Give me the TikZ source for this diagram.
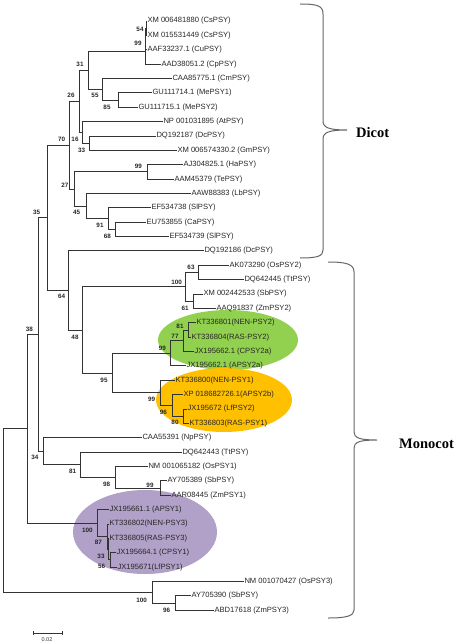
\documentclass[tikz,border=0pt]{standalone}
\usepackage{fontspec}
\setmainfont{Liberation Sans}
\newfontfamily\seriffont{Liberation Serif}
\definecolor{grn}{HTML}{92D050}
\definecolor{org}{HTML}{FFC000}
\definecolor{pur}{HTML}{B1A0C7}
\tikzset{
  br/.style={draw=black!80, line width=0.9pt},
  lf/.style={anchor=west, inner sep=0.8pt, font=\fontsize{7.6}{8}\selectfont, text=black!85},
  bs/.style={inner sep=0pt, font=\bfseries\fontsize{6.3}{7}\selectfont, text=black!85},
  bracecurve/.style={draw=black!60, line width=1pt},
  grp/.style={font=\seriffont\bfseries\fontsize{14.5}{16}\selectfont, anchor=west, inner sep=0pt},
}
\begin{document}
\begin{tikzpicture}[x=1pt, y=-1pt]
\useasboundingbox (0,0) rectangle (459,644);
% highlight ellipses
\fill[grn] (228,340) ellipse [x radius=70, y radius=30];
\fill[org] (224,400) ellipse [x radius=68, y radius=32];
\fill[pur] (145,532) ellipse [x radius=72, y radius=42];
% leaves
\node[lf] (L1) at (146.5,21) {XM 006481880 (CsPSY)};
\node[lf] (L2) at (146.5,35.4) {XM 015531449 (CsPSY)};
\node[lf] (L3) at (146.5,49.7) {AAF33237.1 (CuPSY)};
\node[lf] (L4) at (160.5,64.1) {AAD38051.2 (CpPSY)};
\node[lf] (L5) at (171.5,78.5) {CAA85775.1 (CmPSY)};
\node[lf] (L6) at (151.5,92.9) {GU111714.1 (MePSY1)};
\node[lf] (L7) at (137.5,107.2) {GU111715.1 (MePSY2)};
\node[lf] (L8) at (162.5,121.6) {NP 001031895 (AtPSY)};
\node[lf] (L9) at (155.5,136) {DQ192187 (DcPSY)};
\node[lf] (L10) at (176.5,150.3) {XM 006574330.2 (GmPSY)};
\node[lf] (L11) at (182.5,164.7) {AJ304825.1 (HaPSY)};
\node[lf] (L12) at (173.5,179.1) {AAM45379 (TePSY)};
\node[lf] (L13) at (190.5,193.4) {AAW88383 (LbPSY)};
\node[lf] (L14) at (150.5,207.8) {EF534738 (SlPSY)};
\node[lf] (L15) at (145.5,222.2) {EU753855 (CaPSY)};
\node[lf] (L16) at (168.5,236.6) {EF534739 (SlPSY)};
\node[lf] (L17) at (203.5,250.9) {DQ192186 (DcPSY)};
\node[lf] (L18) at (228.5,265.3) {AK073290 (OsPSY2)};
\node[lf] (L19) at (243.5,279.7) {DQ642445 (TtPSY)};
\node[lf] (L20) at (202.5,294) {XM 002442533 (SbPSY)};
\node[lf] (L21) at (215.5,308.4) {AAQ91837 (ZmPSY2)};
\node[lf] (L22) at (195.5,322.8) {KT336801(NEN-PSY2)};
\node[lf] (L23) at (190.5,337.1) {KT336804(RAS-PSY2)};
\node[lf] (L24) at (193.5,351.5) {JX195662.1 (CPSY2a)};
\node[lf] (L25) at (185.5,365.9) {JX195662.1 (APSY2a)};
\node[lf] (L26) at (174.5,380.3) {KT336800(NEN-PSY1)};
\node[lf] (L27) at (182.5,394.6) {XP 018682726.1(APSY2b)};
\node[lf] (L28) at (186.5,409) {JX195672 (LfPSY2)};
\node[lf] (L29) at (188.5,423.4) {KT336803(RAS-PSY1)};
\node[lf] (L30) at (141.5,437.7) {CAA55391 (NpPSY)};
\node[lf] (L31) at (181.5,452.1) {DQ642443 (TtPSY)};
\node[lf] (L32) at (147.5,466.5) {NM 001065182 (OsPSY1)};
\node[lf] (L33) at (166.5,480.8) {AY705389 (SbPSY)};
\node[lf] (L34) at (170.5,495.2) {AAR08445 (ZmPSY1)};
\node[lf] (L35) at (108.5,509.6) {JX195661.1 (APSY1)};
\node[lf] (L36) at (108.5,524) {KT336802(NEN-PSY3)};
\node[lf] (L37) at (108.5,538.3) {KT336805(RAS-PSY3)};
\node[lf] (L38) at (115.5,552.7) {JX195664.1 (CPSY1)};
\node[lf] (L39) at (116.5,567.1) {JX195671(LfPSY1)};
\node[lf] (L40) at (243.5,581.4) {NM 001070427 (OsPSY3)};
\node[lf] (L41) at (190.5,595.8) {AY705390 (SbPSY)};
\node[lf] (L42) at (213.5,610.2) {ABD17618 (ZmPSY3)};
% internal nodes
\coordinate (n54) at (146,28.2);
\coordinate (n99i) at (145.5,39);
\coordinate (n99) at (145,51.5);
\coordinate (n85) at (118,100);
\coordinate (n55) at (102,89.3);
\coordinate (n31) at (88,70.4);
\coordinate (n33d) at (89,143.2);
\coordinate (n16) at (82,132.4);
\coordinate (n26) at (79,101.4);
\coordinate (n99h) at (147,171.9);
\coordinate (n68) at (115,229.4);
\coordinate (n91) at (108,218.6);
\coordinate (n45) at (86,206);
\coordinate (n27) at (74,189);
\coordinate (n70) at (69,145.2);
\coordinate (n63) at (198,272.5);
\coordinate (n61) at (193,301.2);
\coordinate (n100a) at (185,286.9);
\coordinate (n81) at (188,330);
\coordinate (n77) at (183,340.8);
\coordinate (n99g) at (170,353.3);
\coordinate (n80) at (183,416.2);
\coordinate (n96) at (172,405.4);
\coordinate (n99o) at (160,392.9);
\coordinate (n95) at (112,373.1);
\coordinate (n48) at (82,330);
\coordinate (n64) at (68,290.5);
\coordinate (n35) at (47,217.8);
\coordinate (n99c) at (160,488);
\coordinate (n98) at (115,477.3);
\coordinate (n81b) at (80,464.7);
\coordinate (n34) at (43,451.2);
\coordinate (n38) at (38,334.5);
\coordinate (n56) at (110,559.9);
\coordinate (n33p) at (108,549.1);
\coordinate (n87) at (107,536.6);
\coordinate (n100p) at (97,523.1);
\coordinate (nA) at (27,428.8);
\coordinate (n96o) at (175,603);
\coordinate (n100o) at (152,592.2);
\coordinate (root) at (3,510.5);
% branches
\draw[br] (n54) |- (L1.west); \draw[br] (n54) |- (L2.west);
\draw[br] (n99i) |- (n54); \draw[br] (n99i) |- (L3.west);
\draw[br] (n99) |- (n99i); \draw[br] (n99) |- (L4.west);
\draw[br] (n85) |- (L6.west); \draw[br] (n85) |- (L7.west);
\draw[br] (n55) |- (L5.west); \draw[br] (n55) |- (n85);
\draw[br] (n31) |- (n99); \draw[br] (n31) |- (n55);
\draw[br] (n33d) |- (L9.west); \draw[br] (n33d) |- (L10.west);
\draw[br] (n16) |- (L8.west); \draw[br] (n16) |- (n33d);
\draw[br] (n26) |- (n31); \draw[br] (n26) |- (n16);
\draw[br] (n99h) |- (L11.west); \draw[br] (n99h) |- (L12.west);
\draw[br] (n68) |- (L15.west); \draw[br] (n68) |- (L16.west);
\draw[br] (n91) |- (L14.west); \draw[br] (n91) |- (n68);
\draw[br] (n45) |- (L13.west); \draw[br] (n45) |- (n91);
\draw[br] (n27) |- (n99h); \draw[br] (n27) |- (n45);
\draw[br] (n70) |- (n26); \draw[br] (n70) |- (n27);
\draw[br] (n63) |- (L18.west); \draw[br] (n63) |- (L19.west);
\draw[br] (n61) |- (L20.west); \draw[br] (n61) |- (L21.west);
\draw[br] (n100a) |- (n63); \draw[br] (n100a) |- (n61);
\draw[br] (n81) |- (L22.west); \draw[br] (n81) |- (L23.west);
\draw[br] (n77) |- (n81); \draw[br] (n77) |- (L24.west);
\draw[br] (n99g) |- (n77); \draw[br] (n99g) |- (L25.west);
\draw[br] (n80) |- (L28.west); \draw[br] (n80) |- (L29.west);
\draw[br] (n96) |- (L27.west); \draw[br] (n96) |- (n80);
\draw[br] (n99o) |- (L26.west); \draw[br] (n99o) |- (n96);
\draw[br] (n95) |- (n99g); \draw[br] (n95) |- (n99o);
\draw[br] (n48) |- (n100a); \draw[br] (n48) |- (n95);
\draw[br] (n64) |- (L17.west); \draw[br] (n64) |- (n48);
\draw[br] (n35) |- (n70); \draw[br] (n35) |- (n64);
\draw[br] (n99c) |- (L33.west); \draw[br] (n99c) |- (L34.west);
\draw[br] (n98) |- (L32.west); \draw[br] (n98) |- (n99c);
\draw[br] (n81b) |- (L31.west); \draw[br] (n81b) |- (n98);
\draw[br] (n34) |- (L30.west); \draw[br] (n34) |- (n81b);
\draw[br] (n38) |- (n35); \draw[br] (n38) |- (n34);
\draw[br] (n56) |- (L38.west); \draw[br] (n56) |- (L39.west);
\draw[br] (n33p) |- (L37.west); \draw[br] (n33p) |- (n56);
\draw[br] (n87) |- (L36.west); \draw[br] (n87) |- (n33p);
\draw[br] (n100p) |- (L35.west); \draw[br] (n100p) |- (n87);
\draw[br] (nA) |- (n38); \draw[br] (nA) |- (n100p);
\draw[br] (n96o) |- (L41.west); \draw[br] (n96o) |- (L42.west);
\draw[br] (n100o) |- (L40.west); \draw[br] (n100o) |- (n96o);
\draw[br] (root) |- (nA); \draw[br] (root) |- (n100o);
% bootstrap values
\node[bs] (b54) at (140,29) {54};
\node[bs] (b99a) at (138,43) {99};
\node[bs] (b31) at (80,64) {31};
\node[bs] (b26) at (71,95) {26};
\node[bs] (b55) at (95,95) {55};
\node[bs] (b85) at (107,107) {85};
\node[bs] (b70) at (61.7,139.3) {70};
\node[bs] (b16) at (75,139.3) {16};
\node[bs] (b33a) at (81.7,150) {33};
\node[bs] (b99b) at (138.3,166.7) {99};
\node[bs] (b27) at (65,185) {27};
\node[bs] (b45) at (76.7,212.3) {45};
\node[bs] (b91) at (100,225) {91};
\node[bs] (b68) at (107.3,236) {68};
\node[bs] (b35) at (36.7,212.3) {35};
\node[bs] (b64) at (61.7,296.7) {64};
\node[bs] (b63) at (191,267.7) {63};
\node[bs] (b100a) at (176.7,282.3) {100};
\node[bs] (b61) at (185,308.3) {61};
\node[bs] (b81a) at (180,326) {81};
\node[bs] (b77) at (175,336) {77};
\node[bs] (b99g) at (162.3,348.3) {99};
\node[bs] (b99o) at (151.7,399.3) {99};
\node[bs] (b48) at (75,337.7) {48};
\node[bs] (b95) at (104,380) {95};
\node[bs] (b38) at (29.3,329.3) {38};
\node[bs] (b96a) at (163.3,412.3) {96};
\node[bs] (b80) at (175,422.7) {80};
\node[bs] (b34) at (35,457.3) {34};
\node[bs] (b81b) at (72.7,471) {81};
\node[bs] (b98) at (106.7,484.3) {98};
\node[bs] (b99c) at (150,485.7) {99};
\node[bs] (b100p) at (87.3,530.7) {100};
\node[bs] (b87) at (98.3,542.7) {87};
\node[bs] (b33p) at (101,556.7) {33};
\node[bs] (b56) at (101.7,566.7) {56};
\node[bs] (b100o) at (141.7,600) {100};
\node[bs] (b96o) at (166.7,610) {96};
% scale bar
\coordinate (s1) at (33,633);
\coordinate (s2) at (62,633);
\draw[br, line width=0.8pt] (s1) -- (s2);
\draw[br, line width=0.8pt] ([yshift=-2]s1) -- ([yshift=2]s1);
\draw[br, line width=0.8pt] ([yshift=-2]s2) -- ([yshift=2]s2);
\node[inner sep=0pt, font=\fontsize{5.5}{6}\selectfont, text=black!80] (sl) at (47,640) {0.02};
% brackets
\draw[bracecurve] (300,4) .. controls (318,4) and (323,6) .. (323,14) -- (323,121)
  .. controls (323,128) and (330,130) .. (347,130)
  .. controls (330,130) and (323,132) .. (323,139) -- (323,250)
  .. controls (323,256) and (318,258) .. (300,258);
\node[grp] (dicot) at (356,133) {Dicot};
\draw[bracecurve] (328,262) .. controls (346,262) and (354,264) .. (354,272) -- (354,432)
  .. controls (354,438) and (360,440) .. (377,440)
  .. controls (360,440) and (354,442) .. (354,448) -- (354,610)
  .. controls (354,616) and (346,618) .. (328,618);
\node[grp] (monocot) at (399,444) {Monocot};
\end{tikzpicture}
\end{document}
